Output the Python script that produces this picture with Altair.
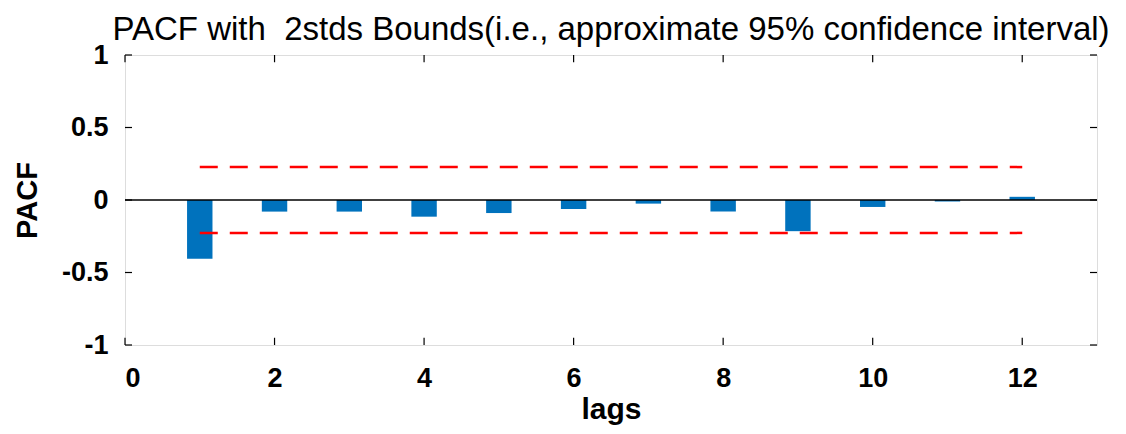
import altair as alt
import pandas as pd

lags = [1, 2, 3, 4, 5, 6, 7, 8, 9, 10, 11, 12]
pacf = [-0.405, -0.08, -0.08, -0.115, -0.09, -0.062, -0.025, -0.08, -0.215, -0.048, -0.01, 0.022]
bound = 0.227
x_ticks = [0, 2, 4, 6, 8, 10, 12]
y_ticks = [-1, -0.5, 0, 0.5, 1]

FONT = "Liberation Sans"
bar_half = 0.17

bars_df = pd.DataFrame({"lag": lags, "pacf": pacf})
bars_df["x0"] = bars_df["lag"] - bar_half
bars_df["x1"] = bars_df["lag"] + bar_half
bars_df["zero"] = 0.0

xs = alt.Scale(domain=[0, 13], nice=False, zero=False)
ys = alt.Scale(domain=[-1, 1], nice=False)

x_axis = alt.Axis(values=x_ticks, ticks=False, domain=False, grid=False,
                  labelFont=FONT, labelFontSize=27, labelFontWeight="bold",
                  labelColor="black", labelPadding=20,
                  labelExpr="'' + datum.value",
                  title="lags", titleFont=FONT, titleFontSize=30,
                  titleFontWeight="bold", titleColor="black", titlePadding=3)
y_axis = alt.Axis(values=y_ticks, ticks=False, domain=False, grid=False,
                  labelFont=FONT, labelFontSize=27, labelFontWeight="bold",
                  labelColor="black", labelPadding=17,
                  labelExpr="'' + datum.value",
                  title="PACF", titleFont=FONT, titleFontSize=29,
                  titleFontWeight="bold", titleColor="black", titlePadding=19)

bars = alt.Chart(bars_df).mark_rect(color="#0072BD").encode(
    x=alt.X("x0:Q", scale=xs, axis=x_axis),
    x2="x1:Q",
    y=alt.Y("zero:Q", scale=ys, axis=y_axis),
    y2="pacf:Q",
)

zero_line = alt.Chart(pd.DataFrame({"y": [0.0]})).mark_rule(
    color="black", strokeWidth=1.5).encode(y=alt.Y("y:Q", scale=ys))

bounds_df = pd.DataFrame({"x0": [lags[0], lags[0]], "x1": [lags[-1], lags[-1]],
                          "b": [bound, -bound]})
bound_lines = alt.Chart(bounds_df).mark_rule(
    color="#FF0000", strokeWidth=2.5, strokeDash=[18, 12]).encode(
    x=alt.X("x0:Q", scale=xs), x2="x1:Q", y=alt.Y("b:Q", scale=ys))

tick_len_y = 0.05
tick_len_x = 0.094
xt = pd.DataFrame({"x": x_ticks * 2,
                   "y0": [-1.0] * len(x_ticks) + [1.0] * len(x_ticks),
                   "y1": [-1 + tick_len_y] * len(x_ticks) + [1 - tick_len_y] * len(x_ticks)})
yt = pd.DataFrame({"y": y_ticks * 2,
                   "x0": [0.0] * len(y_ticks) + [13.0] * len(y_ticks),
                   "x1": [tick_len_x] * len(y_ticks) + [13 - tick_len_x] * len(y_ticks)})
xticks = alt.Chart(xt).mark_rule(color="black", strokeWidth=1.2).encode(
    x=alt.X("x:Q", scale=xs), y=alt.Y("y0:Q", scale=ys), y2="y1:Q")
yticks = alt.Chart(yt).mark_rule(color="black", strokeWidth=1.2).encode(
    y=alt.Y("y:Q", scale=ys), x=alt.X("x0:Q", scale=xs), x2="x1:Q")

chart = alt.layer(bars, zero_line, bound_lines, xticks, yticks).properties(
    width=972, height=290,
    title=alt.TitleParams("PACF with \u00a02stds Bounds(i.e., approximate 95% confidence interval)",
                          font=FONT, fontSize=33, fontWeight="normal", color="black",
                          anchor="middle", offset=-6),
    autosize=alt.AutoSizeParams(type="none"),
    padding={"left": 117, "top": 47, "right": 21, "bottom": 81},
).configure_view(stroke="black", strokeWidth=1.5).configure(background="white")

chart.save("out.html", embed_options={"renderer": "svg", "actions": False})
